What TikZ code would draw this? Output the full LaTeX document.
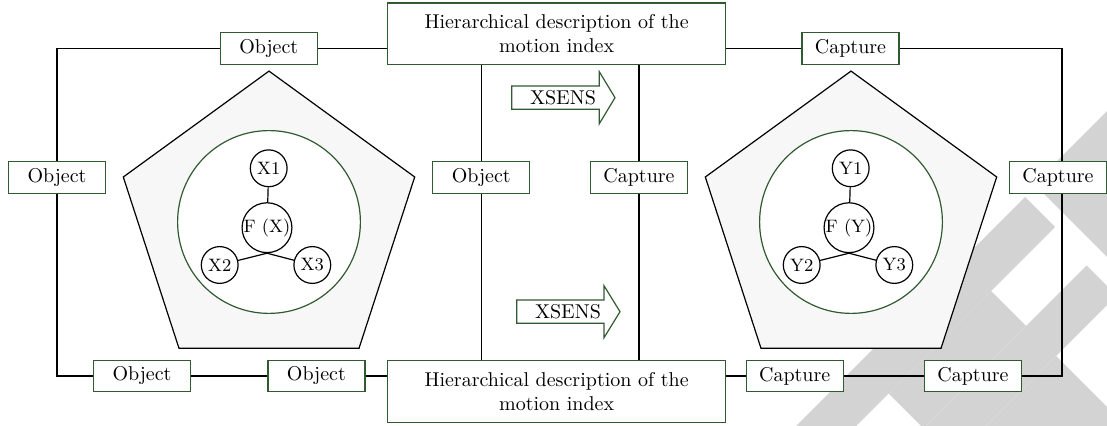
\documentclass[tikz,border=0pt]{standalone}
\usepackage{tikz}
\usetikzlibrary{positioning}
\definecolor{boxgreen}{RGB}{50,90,50}
\definecolor{pentfill}{RGB}{247,247,247}
\definecolor{wmgray}{RGB}{211,211,211}
\tikzset{
	lbl/.style={draw=boxgreen,fill=white,line width=0.6pt,minimum width=48.5pt,minimum height=15.8pt,inner sep=0pt},
	hbox/.style={lbl,minimum width=169pt,minimum height=30.8pt,align=center},
	ring/.style={circle,draw=boxgreen,fill=white,line width=0.6pt,minimum size=91.4pt,inner sep=0pt},
	var/.style={circle,draw,fill=white,line width=0.6pt,inner sep=0pt,minimum size=18.4pt,font=\fontsize{9}{10}\selectfont},
	wire/.style={line width=0.6pt},
	arrowbox/.style={draw=boxgreen,fill=white,line width=0.6pt}
}

\begin{document}
\begin{tikzpicture}[x=0.5pt,y=-0.5pt]
	\useasboundingbox (0,0) rectangle (1107,426);
	%% watermark
	\begin{scope}
		\clip (0,0) rectangle (1107,426);
		\fill[wmgray] (761,461) -- (1025,197) -- (1055,227) -- (791,491) -- cycle;
		\fill[wmgray] (888.5,393.5) -- (991,291) -- (1026,326) -- (923.5,428.5) -- cycle;
		\fill[wmgray] (826,526) -- (1086.5,265.5) -- (1116.5,295.5) -- (856,556) -- cycle;
		\fill[wmgray] (953.5,458.5) -- (1056,356) -- (1200,500) -- (1097.5,602.5) -- cycle;
		\fill[wmgray] (1034,184) -- (1209,9) -- (1400,200) -- (1225,375) -- cycle;
	\end{scope}
	%% pentagons
	\draw[wire,fill=pentfill] (269,71.1) -- (414.7,177) -- (359.05,348.2) -- (178.95,348.2) -- (123.3,177) -- cycle;
	\draw[wire,fill=pentfill] (851,71.1) -- (996.7,177) -- (941.05,348.2) -- (760.95,348.2) -- (705.3,177) -- cycle;
	\node[ring] (r1) at (269,222) {};
	\node[ring] (r2) at (851,222) {};
	%% fig X
	\node[var] (x1) at (268.7,168.3) {X1};
	\node[var,minimum size=24pt] (x0) at (267,227.7) {F (X)};
	\node[var] (x2) at (219.7,265) {X2};
	\node[var] (x3) at (312.3,265) {X3};
	\draw[wire] (x1) -- (x0);
	\draw[wire] (x2) -- (x0.south);
	\draw[wire] (x3) -- (x0.south);
	%% fig Y
	\node[var] (y1) at (850.7,168.3) {Y1};
	\node[var,minimum size=24pt] (y0) at (849,227.7) {F (Y)};
	\node[var] (y2) at (801.7,265) {Y2};
	\node[var] (y3) at (894.3,265) {Y3};
	\draw[wire] (y1) -- (y0);
	\draw[wire] (y2) -- (y0.south);
	\draw[wire] (y3) -- (y0.south);
	%% boxes
	\node[hbox] (h1) at (556.6,33.8) {Hierarchical description of the\\motion index};
	\node[hbox] (h2) at (556.6,391.7) {Hierarchical description of the\\motion index};
	\node[lbl] (o1) at (268.8,48.7) {Object};
	\node[lbl] (o2) at (57,177.5) {Object};
	\node[lbl] (o3) at (481.3,177.5) {Object};
	\node[lbl] (o4) at (142,376) {Object};
	\node[lbl] (o5) at (316.4,376) {Object};
	\node[lbl] (c1) at (850.5,48.7) {Capture};
	\node[lbl] (c2) at (639,177.5) {Capture};
	\node[lbl] (c3) at (1058,177.5) {Capture};
	\node[lbl] (c4) at (794.7,376) {Capture};
	\node[lbl] (c5) at (973,376) {Capture};
	\coordinate (tl) at (57,48.7);
	\coordinate (bl) at (57,376);
	\coordinate (tr) at (1062,48.7);
	\coordinate (br) at (1062,376);
	%% connectors
	\draw[wire] (o2) -- (tl) -- (o1) -- (o1 -| h1.west);
	\draw[wire] (o2) -- (bl) -- (o4) -- (o5) -- (o5 -| h2.west);
	\draw[wire] (h1.east |- c1) -- (c1) -- (tr) -- (tr |- c3.north);
	\draw[wire] (tr |- c3.south) -- (br) -- (c5) -- (c4) -- (c4 -| h2.east);
	\draw[wire] (h1.south -| o3) -- (o3) -- (o3 |- h2.north);
	\draw[wire] (h1.south -| c2) -- (c2) -- (c2 |- h2.north);
	%% XSENS arrows
	\draw[arrowbox] (511.7,86) -- (599.3,86) -- (599.3,71.7) -- (615,97.7) -- (599.3,123.7) -- (599.3,109.3) -- (511.7,109.3) -- cycle;
	\node (a1) at (563,98) {XSENS};
	\draw[arrowbox] (516.7,300) -- (604,300) -- (604,285.7) -- (620,311.7) -- (604,337.7) -- (604,323.3) -- (516.7,323.3) -- cycle;
	\node (a2) at (568,312) {XSENS};
\end{tikzpicture}
\end{document}
